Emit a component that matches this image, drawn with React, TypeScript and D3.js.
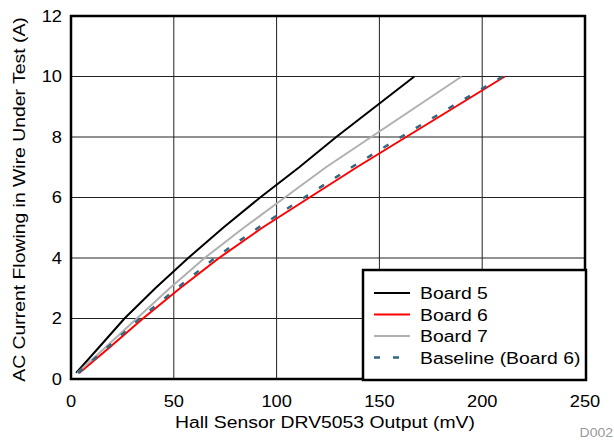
import React from 'react';
import * as d3 from 'd3';

// current steps (A) and sensor output (mV) for each board
const currents = [0.2, 1, 2, 3, 4, 5, 6, 7, 8, 9, 10];
const board5 = [2.5, 13, 26, 41, 57, 74, 92, 111, 129, 148, 167];
const board6 = [4, 18, 35, 53, 72, 93, 116, 139, 163, 187, 211];
const board7 = [3, 16, 32, 48, 65, 84, 104, 124, 146, 168, 190];
const baseline6 = [3.5, 17, 33.5, 51.5, 70, 91, 113.5, 136.5, 160.5, 185, 210];

const xTicks = [0, 50, 100, 150, 200, 250];
const yTicks = [0, 2, 4, 6, 8, 10, 12];

const series = [
  { name: 'Board 5', values: board5, color: '#000000', dash: null },
  { name: 'Board 6', values: board6, color: '#ff0000', dash: null },
  { name: 'Board 7', values: board7, color: '#b0b0b0', dash: null },
  { name: 'Baseline (Board 6)', values: baseline6, color: '#34667f', dash: '6,13' },
];

const W = 614;
const H = 440;
const font = '"Liberation Sans", Arial, sans-serif';
const SX = 1.12; // glyphs in the original are a bit wider than Arial

// text helper, stretched horizontally
const T = ({ x, y, size, anchor = 'start', fill = '#000', rotate = 0, children }: any) => (
  <text
    transform={`translate(${x}, ${y}) rotate(${rotate}) scale(${SX}, 1)`}
    textAnchor={anchor}
    fontSize={size}
    fill={fill}
  >
    {children}
  </text>
);

export default function App() {
  const x = d3.scaleLinear().domain([0, 250]).range([71, 585]);
  const y = d3.scaleLinear().domain([0, 12]).range([379, 16]);

  const line = d3
    .line<number>()
    .x((d) => x(d))
    .y((_, i) => y(currents[i]));

  // legend box
  const lg = { x: 363, y: 270, w: 223, h: 110 };
  const rowY = [293, 314.5, 336, 357.5];

  return (
    <svg
      width={W}
      height={H}
      style={{ position: 'absolute', left: 0, top: 0, background: '#fff' }}
      fontFamily={font}
    >
      <rect x={0} y={0} width={W} height={H} fill="#fff" />

      {/* grid */}
      {xTicks.map((t) => (
        <line key={'gx' + t} x1={x(t)} x2={x(t)} y1={y(0)} y2={y(12)} stroke="#222" strokeWidth={1} />
      ))}
      {yTicks.map((t) => (
        <line key={'gy' + t} x1={x(0)} x2={x(250)} y1={y(t)} y2={y(t)} stroke="#222" strokeWidth={1} />
      ))}

      {/* series */}
      {series.map((s) => (
        <path
          key={s.name}
          d={line(s.values) || ''}
          fill="none"
          stroke={s.color}
          strokeWidth={s.dash ? 2.5 : 2}
          strokeDasharray={s.dash || undefined}
        />
      ))}

      {/* frame */}
      <rect x={x(0)} y={y(12)} width={x(250) - x(0)} height={y(0) - y(12)} fill="none" stroke="#000" strokeWidth={2.5} />

      {/* tick labels */}
      {xTicks.map((t) => (
        <T key={'tx' + t} x={x(t)} y={407} size={16.3} anchor="middle">
          {t}
        </T>
      ))}
      {yTicks.map((t) => (
        <T key={'ty' + t} x={62} y={y(t) + 5.8} size={16.3} anchor="end">
          {t}
        </T>
      ))}

      {/* axis titles */}
      <T x={x(125) - 3} y={428} size={17.3} anchor="middle">
        Hall Sensor DRV5053 Output (mV)
      </T>
      <T x={25} y={y(6) + 2} size={17.3} anchor="middle" rotate={-90}>
        AC Current Flowing in Wire Under Test (A)
      </T>

      {/* legend */}
      <rect x={lg.x} y={lg.y} width={lg.w} height={lg.h} fill="#fff" stroke="#000" strokeWidth={2.5} />
      {series.map((s, i) => (
        <g key={'lg' + s.name}>
          <line
            x1={374}
            x2={410}
            y1={rowY[i]}
            y2={rowY[i]}
            stroke={s.color}
            strokeWidth={s.dash ? 2.5 : 2}
            strokeDasharray={s.dash || undefined}
          />
          <T x={420} y={rowY[i] + 6} size={17.3}>
            {s.name}
          </T>
        </g>
      ))}

      <T x={613} y={437} size={12.5} anchor="end" fill="#9a9a9a">
        D002
      </T>
    </svg>
  );
}
